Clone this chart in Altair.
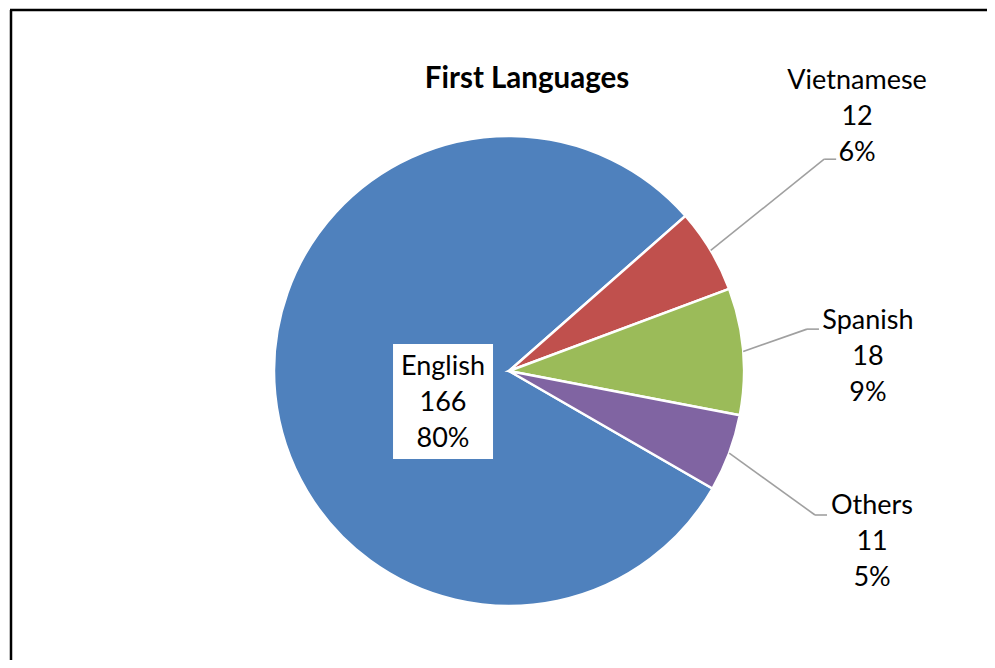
import math
import altair as alt
import pandas as pd

# ---------------- data ----------------
languages = ["English", "Vietnamese", "Spanish", "Others"]
counts = [166, 12, 18, 11]
colors = ["#4F81BD", "#C0504D", "#9BBB59", "#8064A2"]
title_text = "First Languages"

# ---------------- layout / style ----------------
W, H = 979, 652
CX, CY, R = 497, 359, 235          # pie centre and radius (px)
START_DEG = 120                    # angle of first slice (clockwise from 12 o'clock)
FONT = "Lato"
FS = 27
LH = 36
# label placement (first-line baseline), polar relative to pie centre
label_r = [66.1, 447.9, 361.4, 390.2]
label_ang = [266.5, 51.0, 83.3, 111.5]
elbow_r = [0, 379.7, 300.9, 338.2]
elbow_ang = [0, 56.1, 82.0, 115.2]
TAIL = 12

total = sum(counts)
pcts = [round(c / total * 100) for c in counts]

def polar(r, deg):
    a = math.radians(deg)
    return CX + r * math.sin(a), CY - r * math.cos(a)

pie_df = pd.DataFrame({"lang": languages, "count": counts, "idx": range(len(languages))})

# mid angles of slices
mids = []
cum = 0
for c in counts:
    mids.append(START_DEG + (cum + c / 2) / total * 360)
    cum += c

lab_rows = []
seg_rows = []
for i, lang in enumerate(languages):
    lx, ly = polar(label_r[i], label_ang[i])
    lab_rows.append({"x": lx, "y": ly, "txt": f"{lang}\n{counts[i]}\n{pcts[i]}%"})
    if elbow_r[i] > 0:
        sx, sy = polar(R, mids[i])
        ex, ey = polar(elbow_r[i], elbow_ang[i])
        seg_rows.append({"x": sx, "y": sy, "x2": ex, "y2": ey})
        seg_rows.append({"x": ex, "y": ey, "x2": ex + TAIL, "y2": ey})
lab_df = pd.DataFrame(lab_rows)
seg_df = pd.DataFrame(seg_rows)

ex0, ey0 = lab_rows[0]["x"], lab_rows[0]["y"]
box_df = pd.DataFrame({"x": [ex0 - 50], "x2": [ex0 + 50], "y": [ey0 - 31], "y2": [ey0 + 84]})

px = lambda f: alt.X(f, scale=None, axis=None)
py = lambda f: alt.Y(f, scale=None, axis=None)

border_left = alt.Chart(pd.DataFrame({"a": [0]})).mark_rule(color="black", strokeWidth=2.5).encode(
    x=alt.value(-1), y=alt.value(-2), y2=alt.value(H + 5))
border_top = alt.Chart(pd.DataFrame({"a": [0]})).mark_rule(color="black", strokeWidth=2.5).encode(
    x=alt.value(-2), x2=alt.value(W + 5), y=alt.value(-2))

start = math.radians(START_DEG)
pie = alt.Chart(pie_df).mark_arc(radius=R, stroke="white", strokeWidth=2.5).encode(
    theta=alt.Theta("count:Q", stack=True, scale=alt.Scale(range=[start, start + 2 * math.pi])),
    order=alt.Order("idx:Q"),
    color=alt.Color("lang:N", scale=alt.Scale(domain=languages, range=colors), legend=None),
    x=alt.value(CX), y=alt.value(CY),
)

leaders = alt.Chart(seg_df).mark_rule(color="#A0A0A0", strokeWidth=1.6).encode(
    x=px("x:Q"), y=py("y:Q"), x2="x2:Q", y2="y2:Q")

box = alt.Chart(box_df).mark_rect(color="white").encode(
    x=px("x:Q"), x2="x2:Q", y=py("y:Q"), y2="y2:Q")

labels = alt.Chart(lab_df).mark_text(
    font=FONT, fontSize=FS, lineHeight=LH, lineBreak="\n", align="center", baseline="alphabetic", color="black"
).encode(x=px("x:Q"), y=py("y:Q"), text="txt:N")

title = alt.Chart(pd.DataFrame({"t": [title_text]})).mark_text(
    font=FONT, fontSize=29.5, fontWeight="bold", align="center", baseline="alphabetic", color="black"
).encode(x=alt.value(515), y=alt.value(76), text="t:N")

chart = alt.layer(border_left, border_top, pie, leaders, box, labels, title).properties(
    width=W, height=H, padding=0,
    autosize=alt.AutoSizeParams(type="fit", contains="padding"),
).configure_view(stroke=None)

chart.save("out.html", embed_options={"renderer": "svg", "actions": False})
